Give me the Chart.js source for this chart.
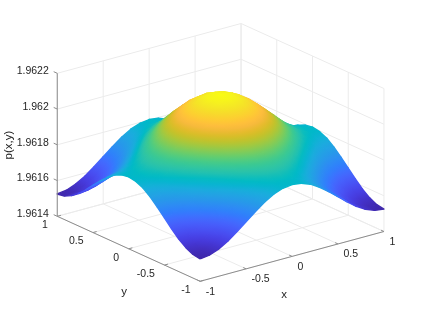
<!DOCTYPE html>
<html><head><meta charset="utf-8">
<style>html,body{margin:0;padding:0;background:#fff}canvas{display:block}</style>
<script src="https://cdn.jsdelivr.net/npm/chart.js@4/dist/chart.umd.js"></script>
</head><body><canvas id="c" width="423" height="317"></canvas>
<script>
const xTicks=[-1,-0.5,0,0.5,1];
const yTicks=[-1,-0.5,0,0.5,1];
const zTicks=[1.9614,1.9616,1.9618,1.962,1.9622];
const xTickLabels=['-1','-0.5','0','0.5','1'];
const yTickLabels=['-1','-0.5','0','0.5','1'];
const zTickLabels=['1.9614','1.9616','1.9618','1.962','1.9622'];
const gridX=[-1,-0.9,-0.8,-0.7,-0.6,-0.5,-0.4,-0.3,-0.2,-0.1,0,0.1,0.2,0.3,0.4,0.5,0.6,0.7,0.8,0.9,1];
const gridY=gridX;
const pBase=1.9614, pUnit=1e-6;
// p(x,y), in millionths above 1.9614; rows follow gridX, columns gridY
const pRows=[
[125,132,152,182,221,264,306,345,376,395,402,395,376,345,306,264,221,182,152,132,125],
[132,139,158,189,228,271,314,353,383,403,410,403,383,353,314,271,228,189,158,139,132],
[152,158,178,210,249,292,336,375,406,426,433,426,406,375,336,292,249,210,178,158,152],
[182,189,210,241,281,325,370,409,441,461,468,461,441,409,370,325,281,241,210,189,182],
[221,228,249,281,322,367,412,453,485,506,513,506,485,453,412,367,322,281,249,228,221],
[264,271,292,325,367,413,460,501,534,556,563,556,534,501,460,413,367,325,292,271,264],
[306,314,336,370,412,460,507,550,584,605,613,605,584,550,507,460,412,370,336,314,306],
[345,353,375,409,453,501,550,593,628,650,658,650,628,593,550,501,453,409,375,353,345],
[376,383,406,441,485,534,584,628,663,685,693,685,663,628,584,534,485,441,406,383,376],
[395,403,426,461,506,556,605,650,685,708,716,708,685,650,605,556,506,461,426,403,395],
[402,410,433,468,513,563,613,658,693,716,724,716,693,658,613,563,513,468,433,410,402],
[395,403,426,461,506,556,605,650,685,708,716,708,685,650,605,556,506,461,426,403,395],
[376,383,406,441,485,534,584,628,663,685,693,685,663,628,584,534,485,441,406,383,376],
[345,353,375,409,453,501,550,593,628,650,658,650,628,593,550,501,453,409,375,353,345],
[306,314,336,370,412,460,507,550,584,605,613,605,584,550,507,460,412,370,336,314,306],
[264,271,292,325,367,413,460,501,534,556,563,556,534,501,460,413,367,325,292,271,264],
[221,228,249,281,322,367,412,453,485,506,513,506,485,453,412,367,322,281,249,228,221],
[182,189,210,241,281,325,370,409,441,461,468,461,441,409,370,325,281,241,210,189,182],
[152,158,178,210,249,292,336,375,406,426,433,426,406,375,336,292,249,210,178,158,152],
[132,139,158,189,228,271,314,353,383,403,410,403,383,353,314,271,228,189,158,139,132],
[125,132,152,182,221,264,306,345,376,395,402,395,376,345,306,264,221,182,152,132,125]
];
const parula=[[.2422,.1504,.6603],[.2504,.1650,.7076],[.2578,.1818,.7511],[.2647,.1978,.7952],[.2706,.2147,.8364],[.2751,.2342,.8710],[.2783,.2559,.8991],[.2803,.2782,.9221],[.2813,.3006,.9414],[.2810,.3228,.9579],[.2795,.3447,.9717],[.2760,.3667,.9829],[.2699,.3892,.9906],[.2602,.4123,.9952],[.2440,.4358,.9988],[.2206,.4603,.9973],[.1963,.4847,.9892],[.1834,.5074,.9798],[.1786,.5289,.9682],[.1764,.5499,.9520],[.1687,.5703,.9359],[.1540,.5902,.9218],[.1460,.6091,.9079],[.1380,.6276,.8973],[.1248,.6459,.8883],[.1113,.6635,.8763],[.0952,.6798,.8598],[.0689,.6948,.8394],[.0297,.7082,.8163],[.0036,.7203,.7917],[.0067,.7312,.7660],[.0433,.7411,.7394],[.0964,.7500,.7120],[.1408,.7584,.6842],[.1717,.7670,.6554],[.1938,.7758,.6251],[.2161,.7843,.5923],[.2470,.7918,.5567],[.2906,.7973,.5188],[.3406,.8008,.4789],[.3909,.8029,.4354],[.4456,.8024,.3909],[.5044,.7993,.3480],[.5616,.7942,.3045],[.6174,.7876,.2612],[.6720,.7793,.2227],[.7242,.7698,.1910],[.7738,.7598,.1646],[.8203,.7498,.1535],[.8634,.7406,.1596],[.9035,.7330,.1774],[.9393,.7288,.2100],[.9728,.7298,.2394],[.9956,.7434,.2371],[.9970,.7659,.2199],[.9952,.7893,.2028],[.9892,.8136,.1885],[.9786,.8386,.1766],[.9676,.8639,.1643],[.9610,.8890,.1537],[.9597,.9135,.1423],[.9628,.9373,.1265],[.9691,.9606,.1064],[.9769,.9839,.0805]];

const GRID='#ebebeb', AXIS='#8c8c8c', TEXT='#262626';
const FONT='"Liberation Sans", Arial, sans-serif';

function project(x,y,p){
  return {x:220.6+91.9*x-71.45*y, y:223.9-24.9*x-32.5*y-(p-pBase)*178750};
}
const allP=pRows.flat();
const pMin=Math.min(...allP), pMax=Math.max(...allP);
function colorOf(v){
  const t=Math.max(0,Math.min(1,(v-pMin)/(pMax-pMin)))*(parula.length-1);
  const i=Math.min(parula.length-2,Math.floor(t)), f=t-i;
  const c=parula[i].map((a,k)=>Math.round(255*(a+(parula[i+1][k]-a)*f)));
  return `rgb(${c[0]},${c[1]},${c[2]})`;
}
function seg(a,b,color,order){
  return {data:[project(...a),project(...b)],borderColor:color,backgroundColor:color,borderWidth:1,showLine:true,pointRadius:0,fill:false,order};
}
const datasets=[];
const zLo=zTicks[0], zHi=zTicks[zTicks.length-1];
xTicks.forEach(x=>{
  datasets.push(seg([x,-1,zLo],[x,1,zLo],GRID,100000));
  datasets.push(seg([x,1,zLo],[x,1,zHi],GRID,100000));
});
yTicks.forEach(y=>{
  datasets.push(seg([-1,y,zLo],[1,y,zLo],GRID,100000));
  datasets.push(seg([1,y,zLo],[1,y,zHi],GRID,100000));
});
zTicks.forEach(z=>{
  datasets.push(seg([-1,1,z],[1,1,z],GRID,100000));
  datasets.push(seg([1,1,z],[1,-1,z],GRID,100000));
});
// axis lines and ticks
datasets.push(seg([-1,1,zLo],[-1,1,zHi],AXIS,-3));
datasets.push(seg([-1,1,zLo],[-1,-1,zLo],AXIS,-3));
datasets.push(seg([-1,-1,zLo],[1,-1,zLo],AXIS,-3));
xTicks.forEach(x=>datasets.push(seg([x,-1,zLo],[x,-0.96,zLo],AXIS,-2)));
yTicks.forEach(y=>datasets.push(seg([-1,y,zLo],[-0.96,y,zLo],AXIS,-2)));
zTicks.forEach(z=>datasets.push(seg([-1,1,z],[-1,1.05,z],AXIS,-2)));

// Paint a cell with a screen-space gradient perpendicular to its own contour lines
function quadPaint(ctx){
  const d=ctx.dataset, chart=ctx.chart;
  if(!chart.chartArea) return d.flat;
  const sx=chart.scales.x, sy=chart.scales.y;
  const P=d.data.slice(0,4).map(q=>[sx.getPixelForValue(q.x),sy.getPixelForValue(q.y)]);
  const V=d.vals;
  const eu=[(P[1][0]+P[2][0]-P[0][0]-P[3][0])/2,(P[1][1]+P[2][1]-P[0][1]-P[3][1])/2];
  const ew=[(P[2][0]+P[3][0]-P[0][0]-P[1][0])/2,(P[2][1]+P[3][1]-P[0][1]-P[1][1])/2];
  const du=(V[1]+V[2]-V[0]-V[3])/2, dw=(V[2]+V[3]-V[0]-V[1])/2;
  const det=eu[0]*ew[1]-eu[1]*ew[0];
  const vLo=Math.min(...V), vHi=Math.max(...V);
  if(Math.abs(det)<8||vHi-vLo<1) return d.flat;
  const a=(du*ew[1]-dw*eu[1])/det, b=(eu[0]*dw-ew[0]*du)/det;
  const n=a*a+b*b;
  if(n<1e-6) return d.flat;
  const cx=(P[0][0]+P[1][0]+P[2][0]+P[3][0])/4, cy=(P[0][1]+P[1][1]+P[2][1]+P[3][1])/4;
  const vc=(V[0]+V[1]+V[2]+V[3])/4;
  const s0=(vLo-vc)/n, s1=(vHi-vc)/n;
  const g=chart.ctx.createLinearGradient(cx+a*s0,cy+b*s0,cx+a*s1,cy+b*s1);
  for(let k=0;k<=4;k++) g.addColorStop(k/4,colorOf(vLo+(vHi-vLo)*k/4));
  return g;
}
for(let i=0;i<gridX.length-1;i++){
  for(let j=0;j<gridY.length-1;j++){
    const corners=[[i,j],[i+1,j],[i+1,j+1],[i,j+1]];
    const vals=corners.map(([a,b])=>pRows[a][b]);
    const pts=corners.map(([a,b])=>project(gridX[a],gridY[b],pBase+pRows[a][b]*pUnit));
    datasets.push({data:[...pts,pts[0]],vals,flat:colorOf((vals[0]+vals[1]+vals[2]+vals[3])/4),
      showLine:true,pointRadius:0,fill:'shape',borderWidth:1.4,borderJoinStyle:'round',
      backgroundColor:quadPaint,borderColor:quadPaint,order:(i+j)*100+i});
  }
}
const textPlugin={id:'texts',afterDatasetsDraw(chart){
  const c=chart.ctx, sx=chart.scales.x, sy=chart.scales.y;
  const put=(pt,dx,dy,s,al)=>{c.textAlign=al;c.fillText(s,sx.getPixelForValue(pt.x)+dx,sy.getPixelForValue(pt.y)+dy);};
  c.save();c.fillStyle=TEXT;c.textBaseline='middle';c.font='10.5px '+FONT;
  zTicks.forEach((z,i)=>put(project(-1,1,z),-8.5,-2,zTickLabels[i],'right'));
  yTicks.forEach((y,i)=>put(project(-1,y,zLo),-9.5,9,yTickLabels[i],'right'));
  xTicks.forEach((x,i)=>put(project(x,-1,zLo),5.5,10.5,xTickLabels[i],'left'));
  c.font='11.5px '+FONT;c.textAlign='center';
  c.fillText('x',284,295);c.fillText('y',124,291.5);
  c.translate(8.5,145);c.rotate(-Math.PI/2);c.fillText('p(x,y)',0,0);
  c.restore();
}};
new Chart(document.getElementById('c'),{
  type:'scatter',
  data:{datasets},
  plugins:[textPlugin],
  options:{responsive:false,animation:false,events:[],devicePixelRatio:1,
    layout:{padding:0},
    plugins:{legend:{display:false},tooltip:{enabled:false},title:{display:false}},
    scales:{x:{type:'linear',display:false,min:0,max:423},y:{type:'linear',display:false,min:0,max:317,reverse:true}}
  }
});
</script></body></html>
